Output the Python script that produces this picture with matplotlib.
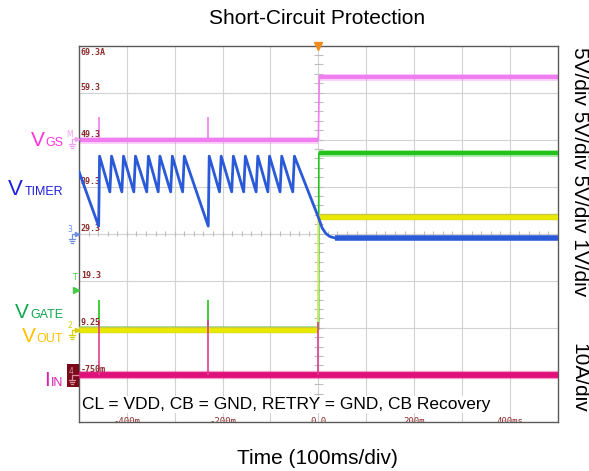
import numpy as np
import matplotlib
matplotlib.use('Agg')
import matplotlib.pyplot as plt
from matplotlib.lines import Line2D
from matplotlib.patches import Rectangle

plt.rcParams['font.family'] = ['Liberation Sans', 'DejaVu Sans']

W, H = 589, 471

# scope channels: screen position of the ground marker (div) and scale per div
ch_pos = {'vgs': 6.0, 'timer': 4.0, 'gate': 1.95, 'vout': 1.95, 'iin': 1.0}
ch_scale = {'vgs': 5.0, 'timer': 1.0, 'gate': 5.0, 'vout': 5.0, 'iin': 10.0}

# V_GS (V)
vgs_before, vgs_after = 0.0, 6.7
vgs_spike_t = [-459, -230]
vgs_spike_v = [2.4, 2.4]

# V_TIMER (V) vertices
timer_t = [-500, -459, -457, -435.5, -432, -410.5, -407, -385.5, -382, -358.5,
           -355, -334.5, -331, -308.5, -305, -283.5, -280, -230, -228, -206.5,
           -203, -181, -177.5, -156, -152.5, -130, -126.5, -105.5, -102, -80,
           -76.5, -53.5, -50, 0, 8, 16, 24, 34, 500]
timer_v = [1.32, 0.16, 1.65, 0.89, 1.65, 0.89, 1.65, 0.89, 1.65, 0.89,
           1.65, 0.89, 1.65, 0.89, 1.65, 0.89, 1.65, 0.16, 1.65, 0.89,
           1.65, 0.89, 1.65, 0.89, 1.65, 0.89, 1.65, 0.89, 1.65, 0.89,
           1.65, 0.89, 1.65, 0.35, 0.12, 0.0, -0.06, -0.09, -0.09]

# V_GATE (V)
gate_before, gate_after = 0.1, 18.8
gate_spike_t = [-459, -230, 0]
gate_spike_v = [3.2, 3.2, 4.4]

# V_OUT (V)
vout_before, vout_after = 0.0, 12.0

# I_IN (A)
iin_level = 0.0
iin_spike_t = [-459, -230, 0]
iin_spike_v = [11.6, 11.6, 11.3]

grid_labels = ['-750m', '9.25', '19.3', '29.3', '39.3', '49.3', '59.3']
time_ticks = [-400, -200, 0, 200, 400]
time_labels = ['-400m', '-200m', '0.0', '200m', '400ms']


def to_div(v, ch):
    return ch_pos[ch] + np.asarray(v, dtype=float) / ch_scale[ch]


def P(x, y):
    return x / W, 1 - y / H


fig = plt.figure(figsize=(W / 100, H / 100), dpi=100)
ax = fig.add_axes([79 / W, (H - 421.7) / H, (557.7 - 79) / W, (421.7 - 45.7) / H])
ax.set_xlim(-500, 500)
ax.set_ylim(0, 8)
ax.set_xticks([])
ax.set_yticks([])
for s in ax.spines.values():
    s.set_color('#5a5a5a')
    s.set_linewidth(1.0)

# graticule
for k in range(1, 10):
    ax.axvline(-500 + 100 * k, color='#d2d2d2', lw=0.8, zorder=0.5)
for k in range(1, 8):
    ax.axhline(k, color='#d2d2d2', lw=0.8, zorder=0.5)
mx = np.arange(-500, 501, 20)
ax.vlines(mx, 4 - 0.05, 4 + 0.05, color='#bdbdbd', lw=0.8, zorder=0.6)
my = np.arange(0, 8.01, 0.2)
ax.hlines(my, -10, 10, color='#bdbdbd', lw=0.8, zorder=0.6)

# V_GS
c_vgs = '#f07ef0'
y0, y1 = to_div(vgs_before, 'vgs'), to_div(vgs_after, 'vgs')
for lw, a in [(5.0, 0.35), (3.0, 1.0)]:
    ax.hlines(y0, -500, 0, color=c_vgs, lw=lw, alpha=a, zorder=2)
    ax.hlines(y1, 2, 500, color=c_vgs, lw=lw, alpha=a, zorder=2)
ax.plot([0, 2], [y0, y1], color=c_vgs, lw=1.2, zorder=2)
ax.vlines(vgs_spike_t, y0, to_div(vgs_spike_v, 'vgs'), color=c_vgs, lw=1.2, zorder=2)

# V_GATE
c_gate = '#22c41c'
y0, y1 = to_div(gate_before, 'gate'), to_div(gate_after, 'gate')
for lw, a in [(5.0, 0.35), (3.0, 1.0)]:
    ax.hlines(y0, -500, 0, color=c_gate, lw=lw, alpha=a, zorder=3)
    ax.hlines(y1, 1, 500, color=c_gate, lw=lw, alpha=a, zorder=3)
ax.plot([0.5, 1], [y0, y1], color=c_gate, lw=1.2, zorder=3)
ax.vlines(gate_spike_t, y0, to_div(gate_spike_v, 'gate'), color=c_gate, lw=1.2, zorder=3)

# V_OUT
c_vout = '#e8e800'
y0, y1 = to_div(vout_before, 'vout'), to_div(vout_after, 'vout')
for lw, c in [(4.6, '#c8c84a'), (3.4, c_vout)]:
    ax.hlines(y0, -500, 0, color=c, lw=lw, zorder=3.5)
    ax.hlines(y1, 0, 500, color=c, lw=lw, zorder=3.5)
ax.plot([0, 0], [y0, y1], color='#eeee70', lw=1.2, zorder=3.5)

# I_IN
c_iin = '#e0107a'
y0 = to_div(iin_level, 'iin')
ax.hlines(y0, -500, 500, color=c_iin, lw=6.0, alpha=0.4, zorder=4)
ax.hlines(y0, -500, 500, color=c_iin, lw=4.2, zorder=4)
ax.vlines(iin_spike_t, y0, to_div(iin_spike_v, 'iin'), color='#e03c8c', lw=1.2, zorder=4)

# V_TIMER
c_timer = '#2a5ad8'
ax.plot(timer_t, to_div(timer_v, 'timer'), color=c_timer, lw=2.0, zorder=5,
        solid_joinstyle='round')
ax.hlines(to_div(timer_v[-1], 'timer'), 34, 500, color=c_timer, lw=4.0, zorder=5)

# graticule readouts
lab_kw = dict(fontfamily='DejaVu Sans Mono', fontsize=6, fontweight='bold',
              color='#8a2b2b', va='center', ha='left', zorder=4.5)
ax.text(-496, 8 - 0.14, '69.3A', **lab_kw)
for k, lab in enumerate(grid_labels, start=1):
    ax.text(-496, k + 0.11, lab, **lab_kw)
for t, lab in zip(time_ticks, time_labels):
    ax.text(t, 0.11, lab, fontfamily='DejaVu Sans Mono', fontsize=6.5,
            color='#8a2b2b', ha='center', va='top', clip_on=True, zorder=8)

ax.text(-493, 0.37, 'CL = VDD, CB = GND, RETRY = GND, CB Recovery', fontsize=12.5,
        ha='left', va='center', zorder=7,
        bbox=dict(facecolor='white', edgecolor='none', pad=0.5))

# trigger position marker
ax.plot([0], [8], marker='v', color='#f08c1c', markersize=6, clip_on=False, zorder=9)


# channel markers left of the graticule
def gline(xs, ys, color, lw=0.9):
    pts = [P(x, y) for x, y in zip(xs, ys)]
    fig.add_artist(Line2D([p[0] for p in pts], [p[1] for p in pts],
                          color=color, lw=lw))


def ground(x, y, color):
    gline([x, x], [y, y + 4], color)
    gline([x - 3, x + 3], [y + 4, y + 4], color)
    gline([x - 2, x + 2], [y + 6, y + 6], color)
    gline([x - 1, x + 1], [y + 8, y + 8], color)


def tag(txt, y, color, gnd=True):
    fig.text(*P(69.5, y - 4), txt, color=color, fontsize=5.5, ha='center',
             va='center', fontfamily='DejaVu Sans')
    gline([72, 78], [y, y], color)
    fig.add_artist(Line2D([P(77, y)[0]], [P(77, y)[1]], marker='>', markersize=3,
                          color=color, lw=0))
    if gnd:
        ground(72, y + 1, color)


tag('M', 139, '#f2a0f2')
tag('3', 233.7, '#6f90e6')
tag('2', 330, '#d6d000')
fig.text(*P(75.5, 278), 'T', color='#44cc44', fontsize=5.5, ha='center',
         va='center', fontfamily='DejaVu Sans')
fig.add_artist(Line2D([P(76, 290)[0]], [P(76, 290)[1]], marker='>', markersize=4,
                      color='#44cc44', lw=0))
fig.add_artist(Rectangle(P(66.5, 387), 12.5 / W, 23 / H, facecolor='#7a0a1a',
                         edgecolor='none'))
fig.text(*P(71, 372), '4', color='#d890a0', fontsize=5.5, ha='center',
         va='center', fontfamily='DejaVu Sans')
gline([72, 78], [375, 375], '#d890a0')
ground(72, 376, '#d890a0')


# channel names with subscripts
def side_label(main, sub, base_y, color, main_size=15, sub_size=9):
    s = fig.text(*P(63, base_y), sub, ha='right', va='baseline',
                 fontsize=sub_size, color=color)
    ax.annotate(main, xy=(-0.03, P(0, base_y)[1]), xycoords=(s, 'figure fraction'),
                ha='right', va='baseline', fontsize=main_size, color=color,
                annotation_clip=False)


side_label('V', 'GS', 145.5, '#ff33dd')
side_label('V', 'TIMER', 195, '#2020e0', main_size=16)
side_label('V', 'GATE', 317.5, '#10a850')
side_label('V', 'OUT', 342, '#ffbf00')
side_label('I', 'IN', 386, '#dd22aa')

# titles and per-div scales
fig.text(*P(317, 18), 'Short-Circuit Protection', ha='center', va='center', fontsize=15)
fig.text(*P(317, 458), 'Time (100ms/div)', ha='center', va='center', fontsize=15)
fig.text(*P(579, 172), '5V/div 5V/div 5V/div 1V/div', rotation=270,
         ha='center', va='center', fontsize=15)
fig.text(*P(579, 378), '10A/div', rotation=270, ha='center', va='center', fontsize=15)

fig.savefig('out.png', dpi=100)
